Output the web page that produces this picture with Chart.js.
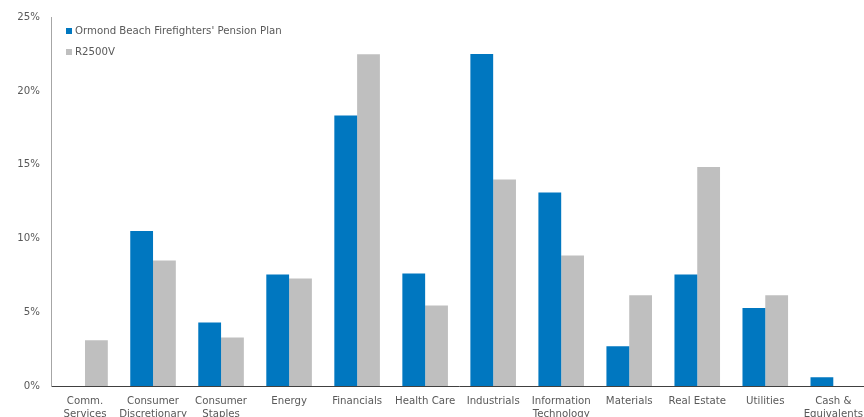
<!DOCTYPE html>
<html>
<head>
<meta charset="utf-8">
<script src="https://cdn.jsdelivr.net/npm/chart.js@4"></script>
<style>
  html, body { margin: 0; padding: 0; overflow: hidden; background: #fff; }
  #wrap { position: absolute; left: 0; top: 0; width: 872px; height: 432px; }
</style>
</head>
<body>
<div id="wrap"><canvas id="myChart" width="872" height="432"></canvas></div>
<script>
const categories = [
  ["Comm.", "Services"],
  ["Consumer", "Discretionary"],
  ["Consumer", "Staples"],
  ["Energy"],
  ["Financials"],
  ["Health Care"],
  ["Industrials"],
  ["Information", "Technology"],
  ["Materials"],
  ["Real Estate"],
  ["Utilities"],
  ["Cash &", "Equivalents"],
];

const seriesNames = ["Ormond Beach Firefighters' Pension Plan", "R2500V"];

const planValues = [0, 10.5, 4.3, 7.55, 18.33, 7.62, 22.5, 13.11, 2.69, 7.55, 5.29, 0.59];
const benchValues = [3.1, 8.5, 3.28, 7.28, 22.49, 5.45, 13.99, 8.84, 6.15, 14.85, 6.15, 0];

const yTicks = [0, 5, 10, 15, 20, 25];

const blue = "#0077c0";
const grey = "#bfbfbf";
const textColor = "#595959";
const fontFamily = "'DejaVu Sans', Verdana, sans-serif";
const fontSize = 10.2;

// legend drawn inside the plot, top-left, stacked
const insideLegend = {
  id: "insideLegend",
  afterDraw(chart) {
    const ctx = chart.ctx;
    ctx.save();
    ctx.font = fontSize + "px " + fontFamily;
    ctx.textBaseline = "middle";
    chart.data.datasets.forEach((ds, i) => {
      const y = 31 + i * 21;
      ctx.fillStyle = ds.backgroundColor;
      ctx.fillRect(66, y - 3, 6, 6);
      ctx.fillStyle = textColor;
      ctx.fillText(ds.label, 75, y);
    });
    ctx.restore();
  },
};

const ctx = document.getElementById("myChart");

const myChart = new Chart(ctx, {
  type: "bar",
  data: {
    labels: categories,
    datasets: [
      {
        label: seriesNames[0],
        data: planValues,
        backgroundColor: blue,
        categoryPercentage: 0.67,
        barPercentage: 1,
      },
      {
        label: seriesNames[1],
        data: benchValues,
        backgroundColor: grey,
        categoryPercentage: 0.67,
        barPercentage: 1,
      },
    ],
  },
  options: {
    responsive: false,
    animation: false,
    layout: {
      padding: { top: 17, right: 1, left: 0, bottom: 0 },
    },
    plugins: {
      legend: { display: false },
      tooltip: { enabled: false },
    },
    scales: {
      x: {
        grid: { display: false, drawTicks: false },
        border: { display: true, color: "#404040", width: 1 },
        ticks: {
          color: textColor,
          font: { family: fontFamily, size: fontSize, lineHeight: 1.25 },
          maxRotation: 0,
          autoSkip: false,
          padding: 9,
        },
        afterFit: (scale) => {
          scale.height = 46;
        },
      },
      y: {
        min: 0,
        max: 25,
        afterBuildTicks: (scale) => {
          scale.ticks = yTicks.map((v) => ({ value: v }));
        },
        grid: { display: false, drawTicks: false },
        border: { display: true, color: "#a6a6a6", width: 1 },
        ticks: {
          color: textColor,
          font: { family: fontFamily, size: fontSize },
          padding: 11,
          callback: (v) => v + "%",
        },
        afterFit: (scale) => {
          scale.width = 51;
        },
      },
    },
  },
  plugins: [insideLegend],
});
</script>
</body>
</html>
